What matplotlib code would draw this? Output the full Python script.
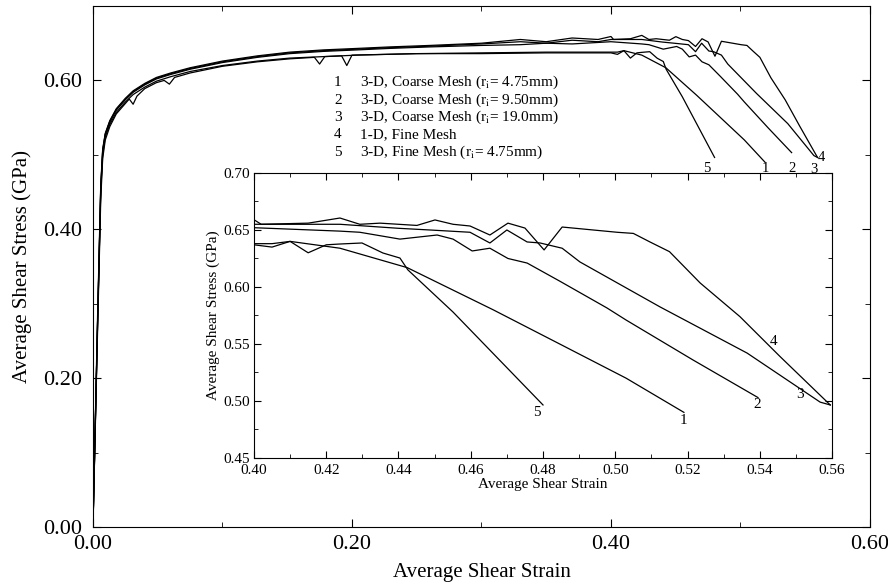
import numpy as np
import matplotlib.pyplot as plt
from matplotlib.ticker import MultipleLocator, FormatStrFormatter

plt.rcParams['font.family'] = ['Liberation Serif', 'DejaVu Serif']
plt.rcParams['mathtext.fontset'] = 'stix'

# average shear strain / average shear stress (GPa)
strain_1 = [0, 0.0035, 0.006, 0.0075, 0.0095, 0.013, 0.018, 0.025, 0.031, 0.040, 0.049, 0.060,
            0.075, 0.100, 0.127, 0.152, 0.178, 0.204, 0.25, 0.30, 0.35, 0.40, 0.405, 0.41,
            0.4238, 0.4424, 0.4662, 0.484, 0.503, 0.519]
stress_1 = [0, 0.27, 0.45, 0.50, 0.524, 0.541, 0.557, 0.571, 0.581, 0.591, 0.599, 0.605,
            0.612, 0.620, 0.626, 0.630, 0.632, 0.634, 0.636, 0.637, 0.638, 0.638, 0.638, 0.640,
            0.634, 0.617, 0.580, 0.551, 0.520, 0.490]

strain_2 = [0, 0.0035, 0.006, 0.0075, 0.0095, 0.013, 0.018, 0.025, 0.031, 0.040, 0.049, 0.060,
            0.075, 0.100, 0.127, 0.152, 0.178, 0.204, 0.229, 0.26, 0.30, 0.33, 0.35, 0.37, 0.39,
            0.40, 0.4238, 0.4293, 0.4404, 0.4507, 0.4551, 0.4604, 0.4653, 0.4703, 0.4756,
            0.4847, 0.4977, 0.503, 0.5215, 0.5395]
stress_2 = [0, 0.27, 0.455, 0.505, 0.527, 0.544, 0.560, 0.574, 0.584, 0.594, 0.602, 0.608,
            0.615, 0.624, 0.631, 0.636, 0.639, 0.641, 0.643, 0.645, 0.647, 0.648, 0.650, 0.649, 0.651,
            0.652, 0.649, 0.648, 0.642, 0.6456, 0.642, 0.6316, 0.634, 0.625, 0.621,
            0.605, 0.5816, 0.571, 0.536, 0.503]

strain_3 = [0, 0.0035, 0.006, 0.0075, 0.0095, 0.013, 0.018, 0.025, 0.031, 0.040, 0.049, 0.060,
            0.075, 0.100, 0.127, 0.152, 0.178, 0.204, 0.229, 0.26, 0.30, 0.33, 0.35, 0.37, 0.39,
            0.40, 0.4238, 0.4399, 0.4487, 0.4598, 0.4653, 0.470, 0.4756, 0.4792, 0.4853,
            0.4902, 0.5124, 0.5365, 0.5567, 0.5595]
stress_3 = [0, 0.27, 0.455, 0.506, 0.528, 0.545, 0.561, 0.575, 0.585, 0.595, 0.603, 0.609,
            0.616, 0.625, 0.632, 0.637, 0.640, 0.642, 0.644, 0.646, 0.649, 0.652, 0.650, 0.654, 0.652,
            0.655, 0.655, 0.6515, 0.650, 0.648, 0.6386, 0.650, 0.6395, 0.6386, 0.634,
            0.622, 0.5825, 0.542, 0.499, 0.4965]

strain_4 = [0, 0.0035, 0.006, 0.0075, 0.0095, 0.013, 0.018, 0.025, 0.031, 0.040, 0.049, 0.060,
            0.075, 0.100, 0.127, 0.152, 0.178, 0.204, 0.229, 0.26, 0.30, 0.33, 0.35, 0.37, 0.39,
            0.40, 0.402, 0.415, 0.4238, 0.4293, 0.4349, 0.4451, 0.4501, 0.4551, 0.4598,
            0.4653, 0.4703, 0.475, 0.4803, 0.4853, 0.5005, 0.505, 0.5096, 0.515, 0.5235,
            0.5345, 0.5456, 0.5595]
stress_4 = [0, 0.28, 0.46, 0.508, 0.529, 0.546, 0.562, 0.576, 0.586, 0.596, 0.604, 0.610,
            0.617, 0.626, 0.633, 0.638, 0.641, 0.643, 0.645, 0.647, 0.650, 0.655, 0.652, 0.657, 0.655,
            0.659, 0.655, 0.656, 0.6605, 0.655, 0.656, 0.654, 0.6588, 0.655, 0.6535,
            0.6456, 0.656, 0.6517, 0.6325, 0.6526, 0.648, 0.647, 0.6395, 0.631, 0.6035,
            0.574, 0.539, 0.4965]

strain_5 = [0, 0.0035, 0.006, 0.0075, 0.0095, 0.013, 0.018, 0.025, 0.028, 0.031, 0.034, 0.040,
            0.049, 0.055, 0.059, 0.063, 0.075, 0.100, 0.127, 0.152, 0.171, 0.175, 0.179, 0.192,
            0.196, 0.200, 0.25, 0.30, 0.35, 0.40, 0.405, 0.41, 0.415, 0.42, 0.4238, 0.4299,
            0.4357, 0.4404, 0.4426, 0.4551, 0.48]
stress_5 = [0, 0.26, 0.44, 0.495, 0.52, 0.538, 0.555, 0.569, 0.575, 0.568, 0.579, 0.589,
            0.597, 0.600, 0.595, 0.604, 0.610, 0.619, 0.625, 0.629, 0.631, 0.622, 0.632, 0.633,
            0.620, 0.634, 0.636, 0.636, 0.637, 0.637, 0.635, 0.640, 0.630, 0.637, 0.6377, 0.6386,
            0.6298, 0.6254, 0.615, 0.578, 0.4965]

curves = [(strain_1, stress_1), (strain_2, stress_2), (strain_3, stress_3),
          (strain_4, stress_4), (strain_5, stress_5)]
curve_ids = ['1', '2', '3', '4', '5']
legend_text = [r'3-D, Coarse Mesh (r$_\mathrm{i}$= 4.75mm)',
               r'3-D, Coarse Mesh (r$_\mathrm{i}$= 9.50mm)',
               r'3-D, Coarse Mesh (r$_\mathrm{i}$= 19.0mm)',
               '1-D, Fine Mesh',
               r'3-D, Fine Mesh (r$_\mathrm{i}$= 4.75mm)']

fig = plt.figure(figsize=(8.88, 5.87), dpi=100)
ax = fig.add_axes([0.1047, 0.1022, 0.875, 0.8876])
ins = fig.add_axes([0.286, 0.2198, 0.651, 0.4855])

for s, v in curves:
    ax.plot(s, v, color='black', lw=0.9)
    ins.plot(s, v, color='black', lw=0.9)

# main axes
ax.set_xlim(0, 0.6)
ax.set_ylim(0, 0.7)
ax.xaxis.set_major_locator(MultipleLocator(0.2))
ax.xaxis.set_minor_locator(MultipleLocator(0.1))
ax.yaxis.set_major_locator(MultipleLocator(0.2))
ax.yaxis.set_minor_locator(MultipleLocator(0.1))
ax.xaxis.set_major_formatter(FormatStrFormatter('%.2f'))
ax.yaxis.set_major_formatter(FormatStrFormatter('%.2f'))
ax.tick_params(which='both', direction='in', top=True, right=True, labelsize=16)
ax.tick_params(axis='y', pad=8)
ax.tick_params(axis='x', pad=6)
ax.tick_params(which='major', length=6)
ax.tick_params(which='minor', length=3.5)
ax.set_xlabel('Average Shear Strain', fontsize=15, labelpad=6)
ax.set_ylabel('Average Shear Stress (GPa)', fontsize=15, labelpad=8)

# legend written as text rows
for i, (cid, txt) in enumerate(zip(curve_ids, legend_text)):
    y = 0.853 - i * 0.0335
    ax.text(0.315, y, cid, transform=ax.transAxes, ha='center', va='center', fontsize=11)
    ax.text(0.344, y, txt, transform=ax.transAxes, ha='left', va='center', fontsize=11)

# curve numbers at the end of each curve (main)
main_lab = {'5': (0.474, 0.482), '1': (0.5195, 0.481), '2': (0.5395, 0.481),
            '3': (0.5565, 0.480), '4': (0.5625, 0.497)}
for cid, (x, y) in main_lab.items():
    ax.text(x, y, cid, ha='center', va='center', fontsize=10.5)

# inset
ins.set_xlim(0.40, 0.56)
ins.set_ylim(0.45, 0.70)
ins.xaxis.set_major_locator(MultipleLocator(0.02))
ins.xaxis.set_minor_locator(MultipleLocator(0.01))
ins.yaxis.set_major_locator(MultipleLocator(0.05))
ins.yaxis.set_minor_locator(MultipleLocator(0.025))
ins.xaxis.set_major_formatter(FormatStrFormatter('%.2f'))
ins.yaxis.set_major_formatter(FormatStrFormatter('%.2f'))
ins.tick_params(which='both', direction='in', top=True, right=True, labelsize=11)
ins.tick_params(axis='x', pad=4)
ins.tick_params(axis='y', pad=3)
ins.tick_params(which='major', length=5)
ins.tick_params(which='minor', length=3)
ins.set_xlabel('Average Shear Strain', fontsize=11, labelpad=1)
ins.set_ylabel('Average Shear Stress (GPa)', fontsize=11, labelpad=2)

ins_lab = {'5': (0.4784, 0.4895), '1': (0.519, 0.4833), '2': (0.5393, 0.4965),
           '3': (0.5512, 0.5053), '4': (0.5437, 0.5518)}
for cid, (x, y) in ins_lab.items():
    ins.text(x, y, cid, ha='center', va='center', fontsize=11)

fig.savefig('out.png', dpi=100)
